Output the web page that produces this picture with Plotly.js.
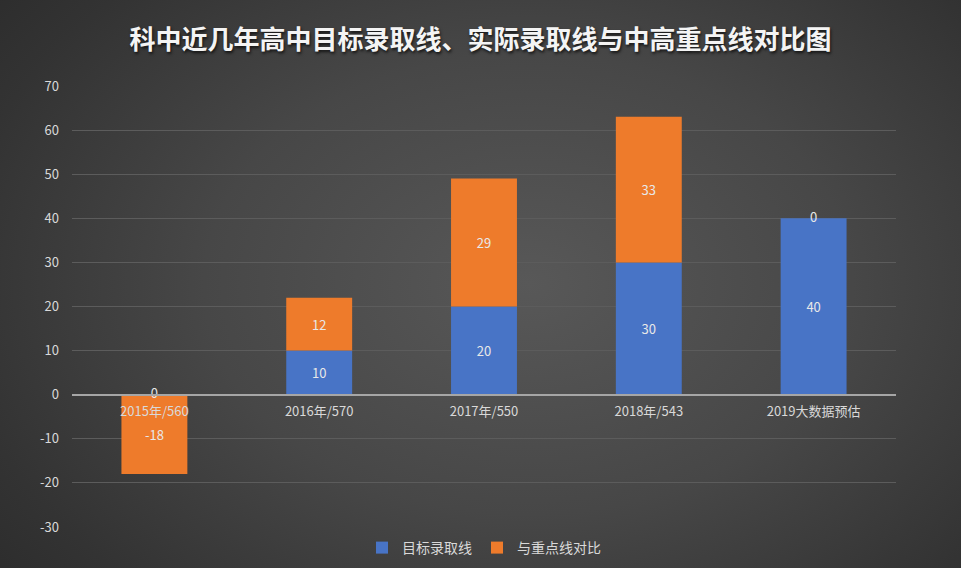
<!DOCTYPE html>
<html>
<head>
<meta charset="utf-8">
<script src="https://cdn.plot.ly/plotly-3.0.1.min.js"></script>
<style>
html,body{margin:0;padding:0;}
body{width:961px;height:568px;overflow:hidden;
background: radial-gradient(ellipse 75% 90% at 55% 50%, #585858 0%, #474747 45%, #333333 80%, #2a2a2a 100%);}
#chart{width:961px;height:568px;}
</style>
</head>
<body>
<div id="chart"></div>
<script>
const categories = ['2015年/560', '2016年/570', '2017年/550', '2018年/543', '2019大数据预估'];
const targetLine = [0, 10, 20, 30, 40];          // 目标录取线
const diffKeyLine = [-18, 12, 29, 33, 0];        // 与重点线对比
const seriesNames = ['目标录取线', '与重点线对比'];
const yTicks = [-30, -20, -10, 0, 10, 20, 30, 40, 50, 60, 70];

const FONT = '"Noto Sans CJK SC", "Microsoft YaHei", sans-serif';
const LABEL = '#d9d9d9';

// labels for zero-valued segments (drawn at the stack base position)
const zx = [], zy = [], zt = [];
[targetLine, diffKeyLine].forEach((s, k) => {
  s.forEach((v, i) => {
    if (v === 0) {
      let base = 0;
      for (let j = 0; j < k; j++) {
        const pv = [targetLine, diffKeyLine][j][i];
        if (pv > 0) base += pv;
      }
      zx.push(categories[i]); zy.push(base); zt.push(String(v));
    }
  });
});

function barText(arr){ return arr.map(v => v === 0 ? '' : String(v)); }

const traces = [
  {
    type: 'bar', name: seriesNames[0], x: categories, y: targetLine,
    marker: {color: '#4874c6'},
    text: barText(targetLine), textposition: 'inside', constraintext: 'none',
    insidetextanchor: 'middle',
    textfont: {family: FONT, size: 13, color: '#e8e8e8'},
    hoverinfo: 'skip'
  },
  {
    type: 'bar', name: seriesNames[1], x: categories, y: diffKeyLine,
    marker: {color: '#ee7b2b'},
    text: barText(diffKeyLine), textposition: 'inside', constraintext: 'none',
    insidetextanchor: 'middle',
    textfont: {family: FONT, size: 13, color: '#e8e8e8'},
    hoverinfo: 'skip'
  },
  {
    type: 'scatter', mode: 'text', x: zx, y: zy, text: zt,
    textposition: 'middle center', showlegend: false, cliponaxis: false,
    textfont: {family: FONT, size: 13, color: '#e8e8e8'},
    hoverinfo: 'skip'
  }
];

const yMin = -30, yMax = 70;
const layout = {
  width: 961, height: 568,
  paper_bgcolor: 'rgba(0,0,0,0)', plot_bgcolor: 'rgba(0,0,0,0)',
  margin: {l: 72, r: 65, t: 86, b: 41},
  barmode: 'relative', bargap: 0.6,
  title: {
    text: '<b>科中近几年高中目标录取线、实际录取线与中高重点线对比图</b>',
    x: 0.5, xanchor: 'center', y: 0.93, yanchor: 'middle',
    font: {family: FONT, size: 26, color: '#f4f4f4',
           shadow: '1px 2px 3px rgba(0,0,0,0.7)'}
  },
  xaxis: {
    type: 'category', anchor: 'free', position: (0 - yMin) / (yMax - yMin),
    showline: true, linecolor: '#a6a6a6', linewidth: 2.5,
    showgrid: false, zeroline: false, ticks: '',
    ticklabelstandoff: 4,
    tickfont: {family: FONT, size: 13, color: LABEL},
    fixedrange: true
  },
  yaxis: {
    range: [yMin, yMax], tickvals: yTicks, ticktext: yTicks.map(String),
    showgrid: true, gridcolor: '#5c5c5c', gridwidth: 1,
    zeroline: false, showline: false, ticks: '',
    ticklabelstandoff: 12,
    tickfont: {family: FONT, size: 13, color: LABEL},
    fixedrange: true
  },
  showlegend: true,
  legend: {
    orientation: 'h', x: 0.5, xanchor: 'center',
    yref: 'container', y: 1 - 548 / 568, yanchor: 'middle',
    font: {family: FONT, size: 14, color: LABEL},
    bgcolor: 'rgba(0,0,0,0)', itemwidth: 30, traceorder: 'normal'
  }
};

Plotly.newPlot('chart', traces, layout, {displayModeBar: false, staticPlot: true});
</script>
</body>
</html>
